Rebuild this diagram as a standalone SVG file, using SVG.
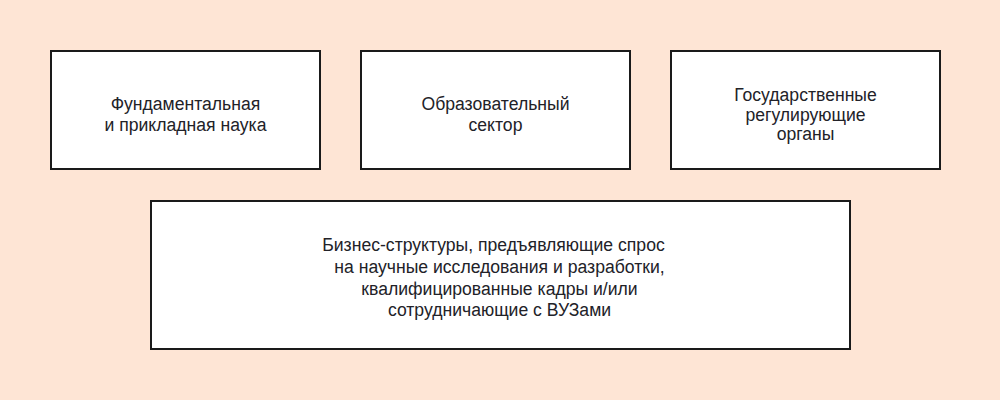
<svg xmlns="http://www.w3.org/2000/svg" width="1000" height="400" viewBox="0 0 1000 400">
<style>
.box{fill:#ffffff;stroke:#1a1a1a;stroke-width:2}
.t{font-family:"Liberation Sans",Arial,sans-serif;font-size:17.6px;fill:#222228;text-anchor:middle}
</style>
<rect x="0" y="0" width="1000" height="400" fill="#fee5d5"/>
<g id="node-science">
<rect class="box" x="51" y="51" width="269" height="118"/>
<text class="t" x="185.5" y="110">Фундаментальная</text>
<text class="t" x="185.5" y="131">и прикладная наука</text>
</g>
<g id="node-education">
<rect class="box" x="361" y="51" width="269" height="118"/>
<text class="t" x="495.5" y="110">Образовательный</text>
<text class="t" x="495.5" y="131">сектор</text>
</g>
<g id="node-government">
<rect class="box" x="671" y="51" width="269" height="118"/>
<text class="t" x="805.5" y="101">Государственные</text>
<text class="t" x="805.5" y="121">регулирующие</text>
<text class="t" x="805.5" y="140">органы</text>
</g>
<g id="node-business">
<rect class="box" x="151" y="201" width="699" height="148"/>
<text class="t" x="493.5" y="250.5">Бизнес-структуры, предъявляющие спрос</text>
<text class="t" x="499.5" y="272.5">на научные исследования и разработки,</text>
<text class="t" x="499.5" y="294.5">квалифицированные кадры и/или</text>
<text class="t" x="499.5" y="316">сотрудничающие с ВУЗами</text>
</g>
<g id="connectors"></g>
</svg>
